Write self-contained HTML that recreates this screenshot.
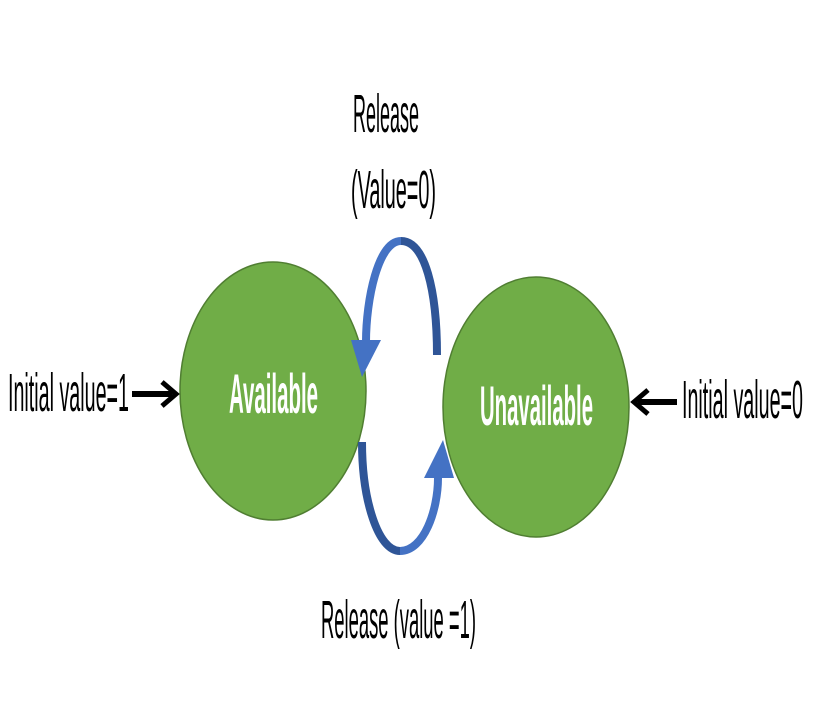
<!DOCTYPE html>
<html><head><meta charset="utf-8"><style>
html,body{margin:0;padding:0;background:#fff;}
svg{display:block;}
text{font-family:"Liberation Sans",sans-serif;}
</style></head><body>
<svg width="828" height="702" viewBox="0 0 828 702" xmlns="http://www.w3.org/2000/svg">
<ellipse cx="273" cy="391" rx="93" ry="129" fill="#70ad47" stroke="#507e32" stroke-width="1.5"/>
<ellipse cx="536" cy="407" rx="93" ry="130" fill="#70ad47" stroke="#507e32" stroke-width="1.5"/>
<!-- top arc -->
<path d="M437,355 C437,290 425,241 401,241" fill="none" stroke="#2f5597" stroke-width="8"/>
<path d="M401,241 C378,241 366,300 366,342" fill="none" stroke="#4472c4" stroke-width="8"/>
<polygon points="351,340 381,340 362,377" fill="#4472c4"/>
<!-- bottom arc -->
<path d="M362,442 C362,500 378,551 400,551" fill="none" stroke="#2f5597" stroke-width="8"/>
<path d="M400,551 C424,551 438,510 438,478" fill="none" stroke="#4472c4" stroke-width="8"/>
<polygon points="424,478 454,478 443,440" fill="#4472c4"/>
<!-- black arrows -->
<line x1="132" y1="394" x2="172" y2="394" stroke="#000" stroke-width="6"/>
<polyline points="162,382 176,394 162,406" fill="none" stroke="#000" stroke-width="5"/>
<line x1="638" y1="402" x2="677" y2="402" stroke="#000" stroke-width="6"/>
<polyline points="648,390 634,402 648,414" fill="none" stroke="#000" stroke-width="5"/>
<!-- labels -->
<text x="353" y="132" font-size="54" textLength="66" lengthAdjust="spacingAndGlyphs">Release</text>
<text x="351" y="208" font-size="54" textLength="85" lengthAdjust="spacingAndGlyphs">(Value=0)</text>
<text x="321" y="638" font-size="54" textLength="155" lengthAdjust="spacingAndGlyphs">Release (value =1)</text>
<text x="8" y="411" font-size="54" textLength="121" lengthAdjust="spacingAndGlyphs">Initial value=1</text>
<text x="682" y="418" font-size="54" textLength="121" lengthAdjust="spacingAndGlyphs">Initial value=0</text>
<text x="229" y="413" font-size="56" font-weight="bold" fill="#fff" textLength="89" lengthAdjust="spacingAndGlyphs">Available</text>
<text x="480" y="425" font-size="56" font-weight="bold" fill="#fff" textLength="113" lengthAdjust="spacingAndGlyphs">Unavailable</text>
</svg>
</body></html>
